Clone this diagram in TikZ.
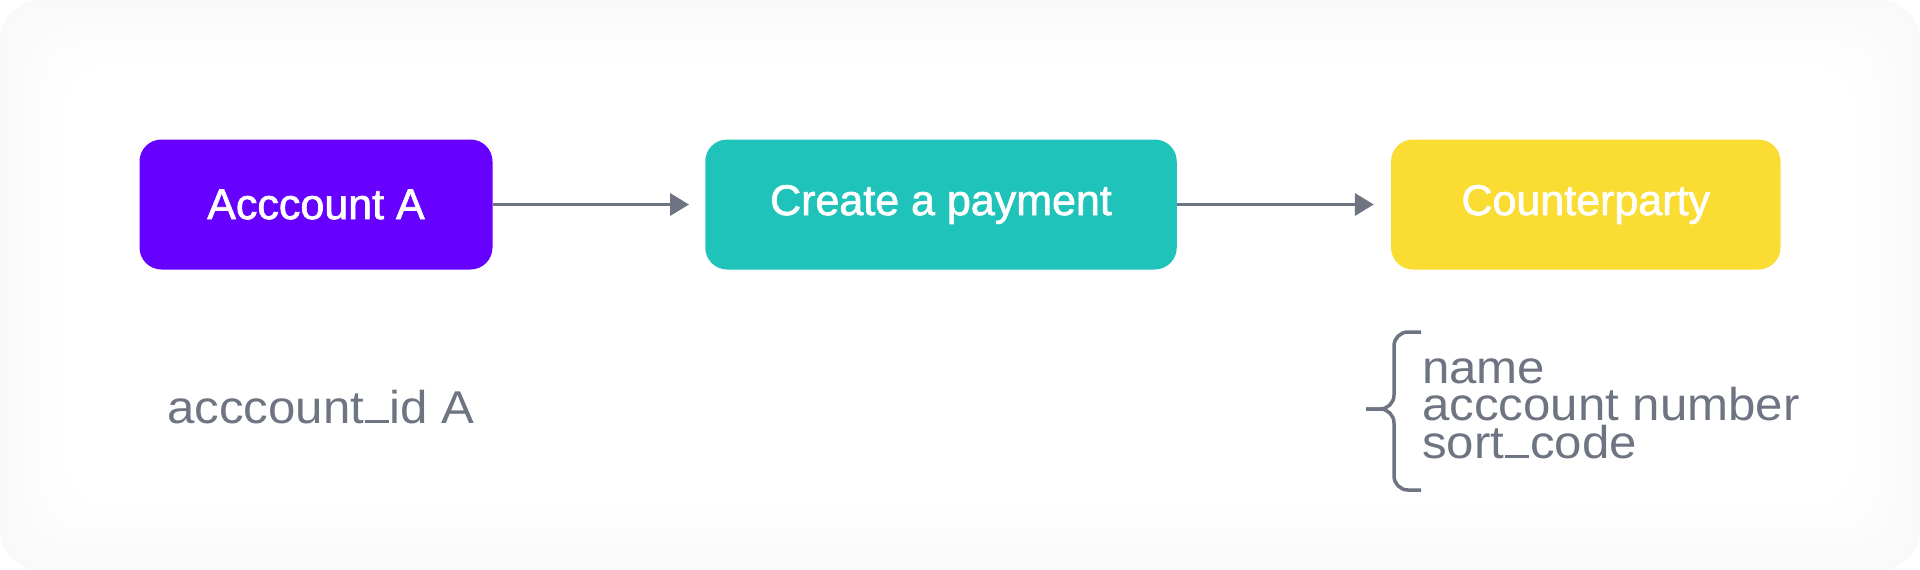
\documentclass[tikz,border=0pt]{standalone}
\usepackage{fontspec}
\setmainfont{Liberation Sans}
\newfontfamily\boxfont[FakeBold=1.6]{Liberation Sans}
\newfontfamily\lblfont[FakeStretch=1.07]{Liberation Sans}
\usetikzlibrary{arrows.meta}
\definecolor{accpurple}{HTML}{6600FF}
\definecolor{payteal}{HTML}{20C3B9}
\definecolor{cpyellow}{HTML}{FADC33}
\definecolor{slategray}{HTML}{6E7482}
\newcommand{\usc}{\kern0.02em\rule{0.52em}{0.065em}\kern0.02em}
\tikzset{
  box/.style={rounded corners=22pt, minimum height=130pt, inner sep=0pt,
    text=white, font=\boxfont\fontsize{43}{50}\selectfont},
  arr/.style={draw=slategray, line width=3.5pt, -{Triangle[length=19pt,width=22pt]}},
  lbl/.style={anchor=base west, inner sep=0pt, text=slategray, font=\lblfont\fontsize{46}{50}\selectfont},
  bracepath/.style={draw=slategray, line width=3.5pt, rounded corners=14pt}
}
\begin{document}
\begin{tikzpicture}[x=1pt,y=-1pt]
\useasboundingbox (0,0) rectangle (1920,570);
\fill[white] (0,0) rectangle (1920,570);
% soft frame
\foreach \i in {0,...,13}{
  \pgfmathsetmacro{\shade}{2.2*(1-\i/13)}
  \pgfmathsetmacro{\ins}{\i*5}
  \fill[black!\shade] [rounded corners=40pt] (\ins,\ins) rectangle (1920-\ins,570-\ins);
}
\node[box, fill=accpurple, minimum width=353pt] (acc) at (316,204.5) {Acccount A};
\node[box, fill=payteal, minimum width=471.5pt] (pay) at (941,204.5) {Create a payment};
\node[box, fill=cpyellow, minimum width=389.5pt] (cp) at (1585.75,204.5) {Counterparty};
\draw[arr, shorten >=16pt] (acc.east) -- (pay.west);
\draw[arr, shorten >=17pt] (pay.east) -- (cp.west);
\node[lbl] (aid) at (167,423) {acccount\usc id A};
\node[lbl] (nm) at (1422,383) {name};
\node[lbl] (an) at (1422,420) {acccount number};
\node[lbl] (sc) at (1422,458) {sort\usc code};
\coordinate (btop) at (1421,332);
\coordinate (bbot) at (1421,490);
\coordinate (btip) at (1366,409);
\path[bracepath] (btop) -- (1394,332) -- (1394,409) -- (btip);
\path[bracepath] (bbot) -- (1394,490) -- (1394,409) -- (btip);
\end{tikzpicture}
\end{document}
